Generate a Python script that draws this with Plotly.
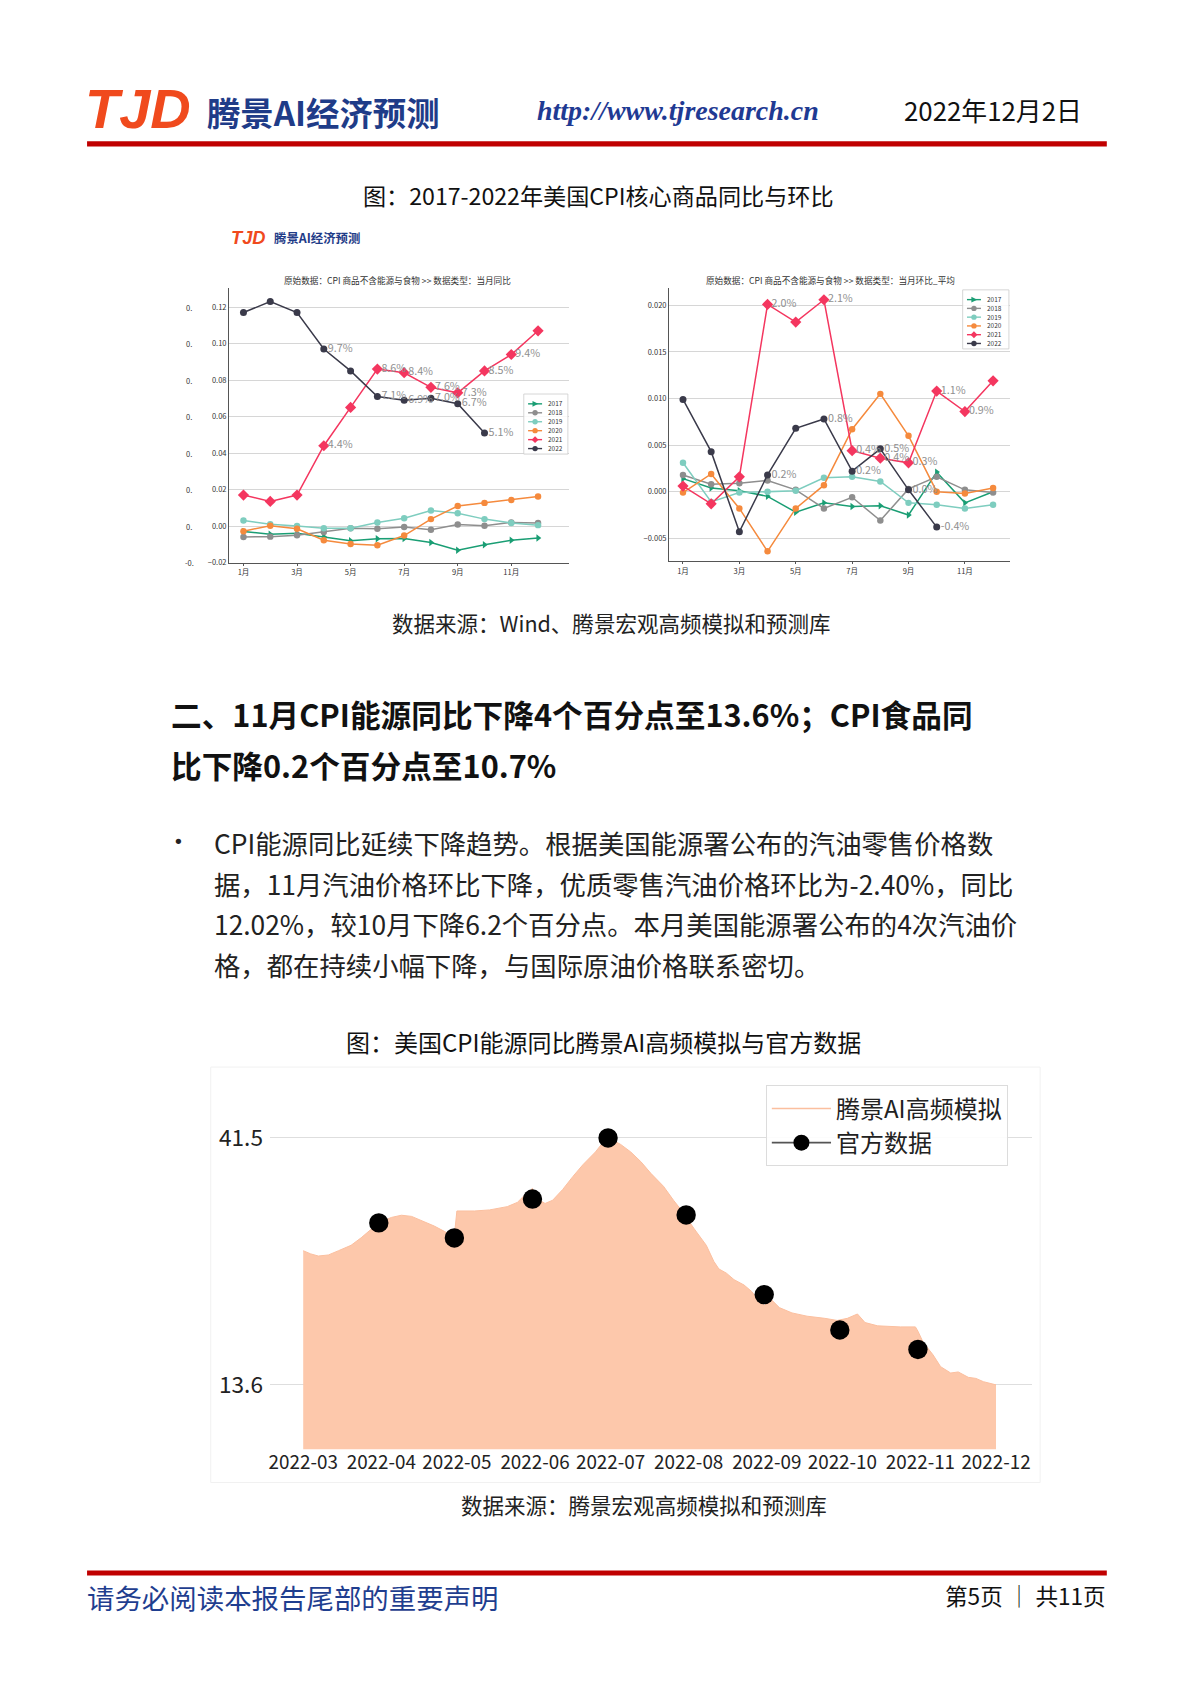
import plotly.graph_objects as go

# ---------------- data ----------------
months = list(range(1, 13))
month_tick_vals = [1, 3, 5, 7, 9, 11]
month_tick_text = ["1月", "3月", "5月", "7月", "9月", "11月"]
years = ["2017", "2018", "2019", "2020", "2021", "2022"]
label_months = [4, 6, 7, 8, 9, 10, 11]

yoy_2017 = [-0.0030, -0.0045, -0.0040, -0.0058, -0.0080, -0.0070, -0.0068, -0.0090, -0.0133, -0.0103, -0.0078, -0.0065]
yoy_2018 = [-0.0060, -0.0058, -0.0050, -0.0033, -0.0012, -0.0015, -0.0005, -0.0020, 0.0008, 0.0002, 0.0020, 0.0017]
yoy_2019 = [0.0030, 0.0010, 0.0000, -0.0012, -0.0012, 0.0020, 0.0043, 0.0085, 0.0070, 0.0038, 0.0017, 0.0005]
yoy_2020 = [-0.0028, 0.0002, -0.0015, -0.0078, -0.0098, -0.0105, -0.0052, 0.0038, 0.0110, 0.0127, 0.0143, 0.0162]
yoy_2021 = [0.0170, 0.0135, 0.0170, 0.0440, 0.0650, 0.0860, 0.0840, 0.0760, 0.0730, 0.0850, 0.0940, 0.1070]
yoy_2022 = [0.1170, 0.1230, 0.1170, 0.0970, 0.0850, 0.0710, 0.0690, 0.0700, 0.0670, 0.0510, None, None]

mom_2017 = [0.0014, 0.0004, 0.0001, -0.0005, -0.0022, -0.0012, -0.0016, -0.0015, -0.0025, 0.0021, -0.0012, 0.0000]
mom_2018 = [0.0018, 0.0008, 0.0009, 0.0012, 0.0002, -0.0018, -0.0006, -0.0031, 0.0003, 0.0016, 0.0002, -0.0001]
mom_2019 = [0.0031, -0.0011, -0.0001, 0.0000, 0.0001, 0.0015, 0.0016, 0.0011, -0.0012, -0.0014, -0.0018, -0.0014]
mom_2020 = [-0.0001, 0.0019, -0.0018, -0.0064, -0.0018, 0.0007, 0.0067, 0.0105, 0.0060, 0.0000, -0.0002, 0.0004]
mom_2021 = [0.0006, -0.0013, 0.0016, 0.0201, 0.0182, 0.0206, 0.0044, 0.0036, 0.0031, 0.0108, 0.0086, 0.0119]
mom_2022 = [0.0099, 0.0043, -0.0043, 0.0018, 0.0068, 0.0078, 0.0022, 0.0046, 0.0002, -0.0038, None, None]

yoy_ticks = [-0.02, 0.0, 0.02, 0.04, 0.06, 0.08, 0.10, 0.12]
mom_ticks = [-0.005, 0.0, 0.005, 0.010, 0.015, 0.020]

sim_dates = ["2022-03-01", "2022-03-04", "2022-03-07", "2022-03-11", "2022-03-15", "2022-03-20",
             "2022-03-24", "2022-03-28", "2022-03-31", "2022-04-05", "2022-04-09", "2022-04-13",
             "2022-04-17", "2022-04-22", "2022-04-26", "2022-04-29", "2022-04-30", "2022-05-01",
             "2022-05-08", "2022-05-14", "2022-05-21", "2022-05-25", "2022-05-28", "2022-05-31",
             "2022-06-02", "2022-06-05", "2022-06-08", "2022-06-12", "2022-06-16", "2022-06-20",
             "2022-06-25", "2022-06-28", "2022-07-01", "2022-07-05", "2022-07-09", "2022-07-13",
             "2022-07-17", "2022-07-22", "2022-07-26", "2022-07-30", "2022-08-03", "2022-08-08",
             "2022-08-11", "2022-08-13", "2022-08-16", "2022-08-19", "2022-08-23", "2022-08-26",
             "2022-08-29", "2022-08-31", "2022-09-03", "2022-09-06", "2022-09-11", "2022-09-17",
             "2022-09-24", "2022-09-29", "2022-10-03", "2022-10-07", "2022-10-10", "2022-10-15",
             "2022-10-24", "2022-10-30", "2022-10-31", "2022-11-02", "2022-11-06", "2022-11-09",
             "2022-11-13", "2022-11-16", "2022-11-20", "2022-11-23", "2022-11-26", "2022-11-29",
             "2022-12-01"]
sim_values = [28.76, 28.40, 28.16, 28.28, 28.76, 29.37,
              30.22, 31.19, 31.92, 32.52, 32.77, 32.64,
              32.16, 31.55, 30.95, 30.46, 30.50, 33.25,
              33.25, 33.37, 33.74, 34.22, 35.07, 35.80,
              34.60, 34.10, 34.46, 35.68, 37.13, 38.47,
              39.92, 41.00, 41.38, 40.77, 39.92, 38.83,
              37.50, 36.04, 34.46, 33.01, 31.31, 29.37,
              27.55, 26.70, 26.22, 25.49, 24.88, 24.15,
              23.06, 22.58, 23.18, 22.33, 21.73, 21.36,
              21.12, 20.88, 21.12, 21.61, 20.64, 20.27,
              20.15, 20.15, 19.67, 18.45, 16.99, 15.66,
              14.94, 15.06, 14.45, 14.33, 13.96, 13.70,
              13.60]
official_dates = ["2022-03-31", "2022-04-30", "2022-05-31", "2022-06-30",
                  "2022-07-31", "2022-08-31", "2022-09-30", "2022-10-31"]
official_values = [31.9, 30.2, 34.6, 41.5, 32.8, 23.8, 19.8, 17.6]
date_ticks = ["2022-03-01", "2022-04-01", "2022-05-01", "2022-06-01", "2022-07-01",
              "2022-08-01", "2022-09-01", "2022-10-01", "2022-11-01", "2022-12-01"]
energy_ticks = [13.6, 41.5]

# ---------------- page geometry ----------------
CJK = "Noto Sans CJK SC"
S = 1280 / 1189          # css px per picture px
W, H, OFF = 1260, 1790, 8


def X(px):
    return (px * S - OFF) / W


def Y(py):
    return 1 - (py * S - OFF) / H


def f(v):
    return v * S


colors = ["#1a9e74", "#8e8e8e", "#7ecdbf", "#f58a3d", "#f4365f", "#3a3a4a"]
symbols = ["triangle-right", "circle", "circle", "circle", "diamond", "circle"]
msizes = [6, 6, 6, 6, 8, 6.5]

fig = go.Figure()

yoy_all = [yoy_2017, yoy_2018, yoy_2019, yoy_2020, yoy_2021, yoy_2022]
mom_all = [mom_2017, mom_2018, mom_2019, mom_2020, mom_2021, mom_2022]

for series_set, xa, ya in [(yoy_all, "x", "y"), (mom_all, "x2", "y2")]:
    for i, vals in enumerate(series_set):
        fig.add_trace(go.Scatter(
            x=months, y=vals, mode="lines+markers",
            line=dict(color=colors[i], width=f(1.4)),
            marker=dict(symbol=symbols[i], size=f(msizes[i]), color=colors[i]),
            xaxis=xa, yaxis=ya, showlegend=False, name=years[i], cliponaxis=False))
    # value labels for 2021 and 2022, placed just right of each point, on top
    for i, vals in enumerate(series_set):
        if years[i] not in ("2021", "2022"):
            continue
        texts = [(f"{v*100:.1f}%" if (v is not None and m in label_months) else "")
                 for m, v in zip(months, vals)]
        fig.add_trace(go.Scatter(
            x=months, y=vals, mode="markers+text", text=texts, textposition="middle right",
            marker=dict(size=f(4.5), opacity=0),
            textfont=dict(size=f(10), color="#8f8f8f", family=CJK),
            xaxis=xa, yaxis=ya, showlegend=False, hoverinfo="skip",
            name=years[i] + " 标签", cliponaxis=False))

fill_color = "#fdc8ab"
line_color = "#fbbf9f"
fig.add_trace(go.Scatter(x=sim_dates, y=sim_values, mode="lines",
                         line=dict(color=line_color, width=1), fill="tozeroy",
                         fillcolor=fill_color, xaxis="x3", yaxis="y3",
                         showlegend=False, name="腾景AI高频模拟"))
fig.add_trace(go.Scatter(x=official_dates, y=official_values, mode="markers",
                         marker=dict(size=f(18), color="black"), xaxis="x3", yaxis="y3",
                         showlegend=False, name="官方数据", cliponaxis=False))
fig.add_trace(go.Scatter(x=[None], y=[None], mode="lines", name="腾景AI高频模拟",
                         line=dict(color=line_color, width=f(1.5)), xaxis="x3", yaxis="y3"))
fig.add_trace(go.Scatter(x=[None], y=[None], mode="lines+markers", name="官方数据",
                         line=dict(color="#555555", width=f(1.5)),
                         marker=dict(size=f(17), color="black"), xaxis="x3", yaxis="y3"))

small_axis = dict(showline=True, linecolor="#555555", linewidth=1, zeroline=False,
                  tickfont=dict(size=f(7), color="#333333", family=CJK))

annotations = []
shapes = []


def txt(s, px, py, size, color="#222222", xanchor="left", family=CJK):
    annotations.append(dict(text=s, x=X(px), y=Y(py), xref="paper", yref="paper",
                            xanchor=xanchor, yanchor="middle", showarrow=False,
                            font=dict(size=f(size), color=color, family=family)))


# header
txt("<b><i>TJD</i></b>", 76, 101, 52, "#f04a1d", family="Liberation Sans")
txt("<b>腾景AI经济预测</b>", 190, 104, 31, "#1f3c88")
txt("<b><i>http://www.tjresearch.cn</i></b>", 629, 103, 26, "#1f3a93", "center", "Liberation Serif")
txt("2022年12月2日", 838, 102, 24, "#111111")
shapes.append(dict(type="rect", xref="paper", yref="paper", x0=X(80), x1=X(1028),
                   y0=Y(136.5), y1=Y(131.5), fillcolor="#c00000", line=dict(width=0)))

txt("图：2017-2022年美国CPI核心商品同比与环比", 555, 182, 21.5, "#111111", "center")
txt("<b><i>TJD</i></b>", 212, 221, 17, "#f04a1d", family="Liberation Sans")
txt("<b>腾景AI经济预测</b>", 252, 222, 11.5, "#1f3c88")

txt("原始数据：CPI 商品不含能源与食物 >> 数据类型：当月同比", 369, 261, 8, "#333333", "center")
txt("原始数据：CPI 商品不含能源与食物 >> 数据类型：当月环比_平均", 771, 261, 8, "#333333", "center")

for v in yoy_ticks:
    annotations.append(dict(text="-0." if v < 0 else "0.", x=X(175), y=v, xref="paper", yref="y",
                            xanchor="center", yanchor="middle", showarrow=False,
                            font=dict(size=f(7), color="#333333", family=CJK)))

# small legends
marker_path = {
    "triangle-right": lambda cx, cy: f"M {X(cx-2.4)},{Y(cy-2.6)} L {X(cx+3)},{Y(cy)} L {X(cx-2.4)},{Y(cy+2.6)} Z",
    "diamond": lambda cx, cy: f"M {X(cx)},{Y(cy-3.2)} L {X(cx+3.2)},{Y(cy)} L {X(cx)},{Y(cy+3.2)} L {X(cx-3.2)},{Y(cy)} Z",
}
for (bx0, bx1, by0, by1) in [(486, 527, 367, 423), (894, 937, 270, 325)]:
    shapes.append(dict(type="rect", xref="paper", yref="paper", x0=X(bx0), x1=X(bx1),
                       y0=Y(by1), y1=Y(by0), fillcolor="rgba(255,255,255,0.85)",
                       line=dict(color="#cccccc", width=0.8)))
    step = (by1 - by0 - 6) / 6
    for i in range(6):
        cy = by0 + 6 + step * (i + 0.5) - 1
        lx0, lx1 = bx0 + 4, bx0 + 17
        cx = (lx0 + lx1) / 2
        shapes.append(dict(type="line", xref="paper", yref="paper", x0=X(lx0), x1=X(lx1),
                           y0=Y(cy), y1=Y(cy), line=dict(color=colors[i], width=f(1.3))))
        if symbols[i] in marker_path:
            shapes.append(dict(type="path", xref="paper", yref="paper",
                               path=marker_path[symbols[i]](cx, cy),
                               fillcolor=colors[i], line=dict(width=0)))
        else:
            shapes.append(dict(type="circle", xref="paper", yref="paper",
                               x0=X(cx - 2.5), x1=X(cx + 2.5), y0=Y(cy + 2.5), y1=Y(cy - 2.5),
                               fillcolor=colors[i], line=dict(width=0)))
        txt(years[i], lx1 + 4, cy, 6, "#333333")

txt("数据来源：Wind、腾景宏观高频模拟和预测库", 568, 580, 20, "#222222", "center")

# section heading and paragraph
txt("<b>二、11月CPI能源同比下降4个百分点至13.6%；CPI食品同</b>", 156, 665, 28.5, "#111111")
txt("<b>比下降0.2个百分点至10.7%</b>", 156, 712, 28.5, "#111111")
txt("•", 158, 784, 17, "#222222", family="DejaVu Sans")
para = ["CPI能源同比延续下降趋势。根据美国能源署公布的汽油零售价格数",
        "据，11月汽油价格环比下降，优质零售汽油价格环比为-2.40%，同比",
        "12.02%，较10月下降6.2个百分点。本月美国能源署公布的4次汽油价",
        "格，都在持续小幅下降，与国际原油价格联系密切。"]
for k, line in enumerate(para):
    txt(line, 196, 785 + 37.7 * k, 24.5, "#222222")

txt("图：美国CPI能源同比腾景AI高频模拟与官方数据", 560, 970, 22.3, "#111111", "center")
shapes.append(dict(type="rect", xref="paper", yref="paper", x0=X(195), x1=X(966),
                   y0=Y(1381), y1=Y(994), fillcolor="rgba(0,0,0,0)",
                   line=dict(color="#f1f1f1", width=1)))
txt("数据来源：腾景宏观高频模拟和预测库", 598, 1401, 20, "#222222", "center")

# footer
shapes.append(dict(type="rect", xref="paper", yref="paper", x0=X(80), x1=X(1028),
                   y0=Y(1467.5), y1=Y(1463), fillcolor="#c00000", line=dict(width=0)))
txt("请务必阅读本报告尾部的重要声明", 78, 1488, 25.5, "#1f3e8f")
txt("第5页 │ 共11页", 1029, 1486, 21, "#111111", "right")

fig.update_layout(
    width=W, height=H, autosize=False,
    margin=dict(l=0, r=0, t=0, b=0),
    paper_bgcolor="white", plot_bgcolor="white",
    font=dict(family=CJK, color="#222222"),
    xaxis=dict(domain=[X(212), X(528)], range=[0.4615, 13.154], tickvals=month_tick_vals,
               ticktext=month_tick_text, showgrid=False, ticks="outside", ticklen=2,
               tickcolor="#555555", anchor="y", **small_axis),
    yaxis=dict(domain=[Y(524), Y(268)], range=[-0.02, 0.1306], tickvals=yoy_ticks,
               tickformat=".2f", showgrid=True, gridcolor="#d6d6d6", gridwidth=0.8,
               anchor="x", **small_axis),
    xaxis2=dict(domain=[X(621), X(938)], range=[0.504, 12.60], tickvals=month_tick_vals,
                ticktext=month_tick_text, showgrid=False, ticks="outside", ticklen=2,
                tickcolor="#555555", anchor="y2", **small_axis),
    yaxis2=dict(domain=[Y(523), Y(268)], range=[-0.00749, 0.02189], tickvals=mom_ticks,
                tickformat=".3f", showgrid=True, gridcolor="#d6d6d6", gridwidth=0.8,
                anchor="x2", **small_axis),
    xaxis3=dict(domain=[X(250), X(958)], type="date",
                range=["2022-02-15 19:00", "2022-12-15 02:00"], tickvals=date_ticks,
                tickformat="%Y-%m", showgrid=False, showline=False, zeroline=False,
                tickfont=dict(size=f(17.5), color="#222222", family=CJK), anchor="y3"),
    yaxis3=dict(domain=[Y(1350), Y(1000)], range=[6.32, 48.78], tickvals=energy_ticks,
                tickformat=".1f", showgrid=True, gridcolor="#dedede", gridwidth=1,
                showline=False, zeroline=False, ticklabelstandoff=6,
                tickfont=dict(size=f(21), color="#222222", family=CJK), anchor="x3"),
    legend=dict(x=X(711), y=Y(1011), xanchor="left", yanchor="top",
                bgcolor="rgba(255,255,255,0.9)", bordercolor="#dcdcdc", borderwidth=1,
                font=dict(size=f(22.3), color="#222222", family=CJK), itemwidth=f(55),
                tracegroupgap=0),
    annotations=annotations,
    shapes=shapes,
)

fig.write_html("out.html")
